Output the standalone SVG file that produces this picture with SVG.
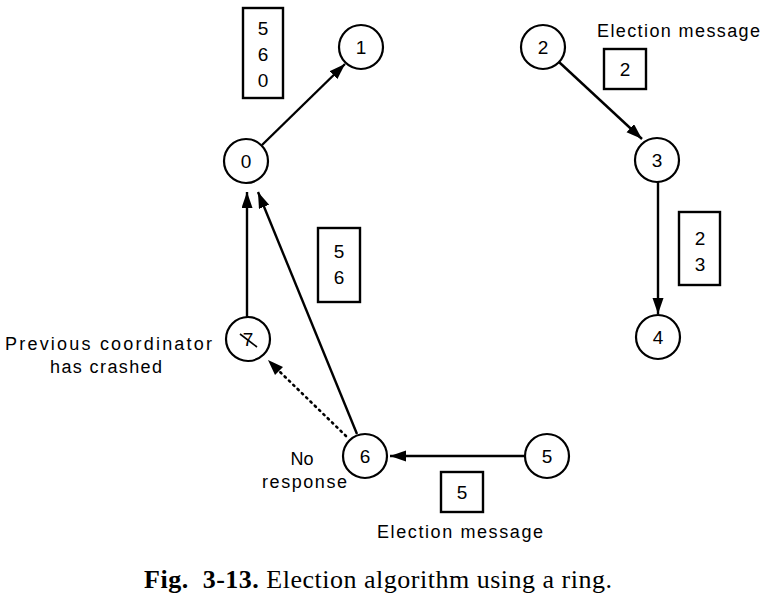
<svg xmlns="http://www.w3.org/2000/svg" width="771" height="601" viewBox="0 0 771 601">
<style>
.node circle{fill:#fff;stroke:#000;stroke-width:2.2}
.node text,.box text{font-family:"Liberation Sans",Arial,sans-serif;font-size:19px;text-anchor:middle;fill:#000}
.box rect{fill:none;stroke:#000;stroke-width:2.4}
.edge{stroke:#000;stroke-width:2.4;fill:none}
.dot{stroke:#000;stroke-width:2.6;fill:none;stroke-dasharray:1.5 4.5;stroke-linecap:round}
.lbl{font-family:"Liberation Sans",Arial,sans-serif;font-size:18px;fill:#000}
.cap{font-family:"Liberation Serif","Times New Roman",serif;font-size:26px;fill:#000}
</style>
<defs>
<marker id="ah" markerUnits="userSpaceOnUse" markerWidth="18" markerHeight="12" refX="16" refY="5.5" orient="auto">
<path d="M0,0 L16,5.5 L0,11 z" fill="#000"/>
</marker>
</defs>
<rect width="771" height="601" fill="#fff"/>
<g id="connectors">
<line class="edge" x1="262" y1="145" x2="345" y2="64" marker-end="url(#ah)"/>
<line class="edge" x1="559" y1="62" x2="642" y2="139" marker-end="url(#ah)"/>
<line class="edge" x1="658" y1="182" x2="658" y2="314" marker-end="url(#ah)"/>
<line class="edge" x1="524" y1="456" x2="390" y2="456" marker-end="url(#ah)"/>
<line class="edge" x1="247" y1="317" x2="247" y2="192" marker-end="url(#ah)"/>
<line class="edge" x1="357" y1="434" x2="258" y2="192" marker-end="url(#ah)"/>
<line class="dot" x1="346" y1="436" x2="278" y2="370"/>
<path d="M268,360 L283,367 L275,375 z" fill="#000"/>
</g>
<g id="node0" class="node"><circle cx="246" cy="161" r="22"/><text x="246" y="168">0</text></g>
<g id="node1" class="node"><circle cx="361" cy="47" r="22"/><text x="361" y="54">1</text></g>
<g id="node2" class="node"><circle cx="543" cy="47" r="22"/><text x="543" y="54">2</text></g>
<g id="node3" class="node"><circle cx="657" cy="160" r="22"/><text x="657" y="167">3</text></g>
<g id="node4" class="node"><circle cx="658" cy="337" r="22"/><text x="658" y="344">4</text></g>
<g id="node5" class="node"><circle cx="547" cy="456" r="22"/><text x="547" y="463">5</text></g>
<g id="node6" class="node"><circle cx="365" cy="456" r="22"/><text x="365" y="463">6</text></g>
<g id="node7" class="node"><circle cx="248" cy="339" r="22"/><text x="248" y="346">7</text><line x1="240" y1="334" x2="257" y2="347" stroke="#000" stroke-width="1.6"/></g>
<g id="box560" class="box"><rect x="243" y="8" width="40" height="90"/><text x="263" y="35">5</text><text x="263" y="61">6</text><text x="263" y="87">0</text></g>
<g id="box56" class="box"><rect x="318" y="228" width="42" height="74"/><text x="339" y="258">5</text><text x="339" y="284">6</text></g>
<g id="box2" class="box"><rect x="604" y="49" width="42" height="40"/><text x="625" y="76">2</text></g>
<g id="box23" class="box"><rect x="679" y="212" width="41" height="73"/><text x="700" y="245">2</text><text x="700" y="271">3</text></g>
<g id="box5" class="box"><rect x="441" y="472" width="42" height="40"/><text x="462" y="499">5</text></g>
<g id="labels">
<text class="lbl" x="597" y="37" textLength="163" lengthAdjust="spacing">Election message</text>
<text class="lbl" x="377" y="538" textLength="166" lengthAdjust="spacing">Election message</text>
<text class="lbl" x="5" y="350" textLength="207" lengthAdjust="spacing">Previous coordinator</text>
<text class="lbl" x="50" y="373" textLength="112" lengthAdjust="spacing">has crashed</text>
<text class="lbl" x="302" y="465" text-anchor="middle" font-size="19">No</text>
<text class="lbl" x="262" y="488" textLength="85" lengthAdjust="spacing">response</text>
<text class="cap" x="144" y="588" textLength="468" lengthAdjust="spacing"><tspan font-weight="bold">Fig.&#160; 3-13.</tspan> Election algorithm using a ring.</text>
</g>
</svg>
